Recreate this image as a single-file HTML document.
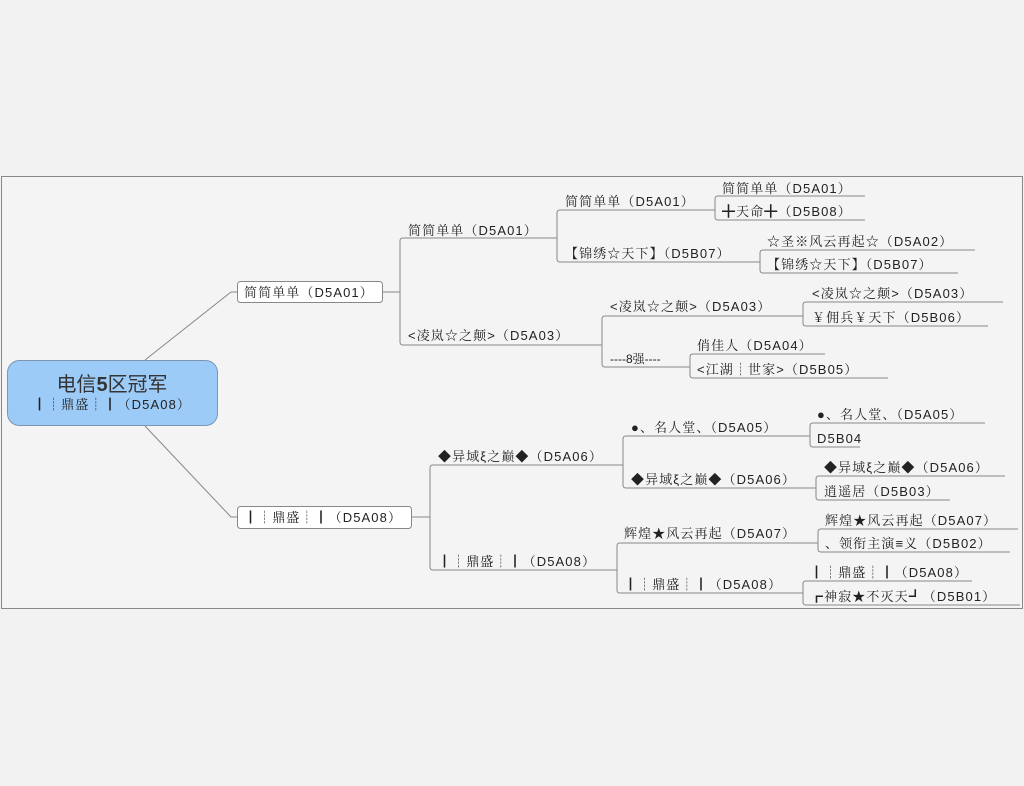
<!DOCTYPE html>
<html><head><meta charset="utf-8"><style>
html,body{margin:0;padding:0;background:#f2f2f2;}
svg{display:block}
text{font-family:"Liberation Sans","Noto Serif CJK SC",serif;font-size:13px;fill:#222;letter-spacing:1.1px;}
</style></head><body>
<svg width="1024" height="786" viewBox="0 0 1024 786" xmlns="http://www.w3.org/2000/svg">
<rect x="0" y="0" width="1024" height="786" fill="#f2f2f2"/>
<rect x="1.5" y="176.5" width="1021" height="432" fill="#f4f4f4" stroke="#888" stroke-width="1"/>
<g fill="none" stroke="#888" stroke-width="1">
<path d="M145 360 L231 292 H237"/>
<path d="M145 426 L231 517 H237"/>
<path d="M383 292 H400"/>
<path d="M412 517 H430"/>
<path d="M557 238 H403 Q400 238 400 241 V342 Q400 345 403 345 H602"/>
<path d="M715 210 H560 Q557 210 557 213 V259 Q557 262 560 262 H760"/>
<path d="M865 196 H718 Q715 196 715 199 V217 Q715 220 718 220 H865"/>
<path d="M975 250 H763 Q760 250 760 253 V270 Q760 273 763 273 H958"/>
<path d="M803 316 H605 Q602 316 602 319 V364 Q602 367 605 367 H690"/>
<path d="M1003 302 H806 Q803 302 803 305 V323 Q803 326 806 326 H988"/>
<path d="M825 354 H693 Q690 354 690 357 V375 Q690 378 693 378 H888"/>
<path d="M623 465 H433 Q430 465 430 468 V567 Q430 570 433 570 H617"/>
<path d="M810 436 H626 Q623 436 623 439 V485 Q623 488 626 488 H816"/>
<path d="M985 423 H813 Q810 423 810 426 V444 Q810 447 813 447 H860"/>
<path d="M1005 476 H819 Q816 476 816 479 V497 Q816 500 819 500 H950"/>
<path d="M818 543 H620 Q617 543 617 546 V590 Q617 593 620 593 H803"/>
<path d="M1018 529 H821 Q818 529 818 532 V549 Q818 552 821 552 H1010"/>
<path d="M972 581 H806 Q803 581 803 584 V602 Q803 605 806 605 H1020"/>
</g>
<rect x="7.5" y="360.5" width="210" height="65" rx="12" fill="#9dcbf8" stroke="#7a96b2"/>
<text x="112" y="391" text-anchor="middle" style="font-size:20px;fill:#333;letter-spacing:0;font-family:'Liberation Sans','Noto Sans CJK SC',sans-serif">电信<tspan font-weight="bold">5</tspan>区冠军</text>
<text x="112" y="409" text-anchor="middle">┃┊鼎盛┊┃（D5A08）</text>
<rect x="237.5" y="281.5" width="145" height="21" rx="3" fill="#fff" stroke="#888"/>
<text x="244" y="297">简简单单（D5A01）</text>
<rect x="237.5" y="506.5" width="174" height="22" rx="3" fill="#fff" stroke="#888"/>
<text x="244" y="522">┃┊鼎盛┊┃（D5A08）</text>

<text x="408" y="235">简简单单（D5A01）</text>
<text x="408" y="340">&lt;凌岚☆之颠&gt;（D5A03）</text>
<text x="565" y="206">简简单单（D5A01）</text>
<text x="565" y="258">【锦绣☆天下】（D5B07）</text>
<text x="722" y="193">简简单单（D5A01）</text>
<text x="722" y="216">╋天命╋（D5B08）</text>
<text x="767" y="246">☆圣※风云再起☆（D5A02）</text>
<text x="767" y="269">【锦绣☆天下】（D5B07）</text>
<text x="610" y="311">&lt;凌岚☆之颠&gt;（D5A03）</text>
<text x="610" y="363" style="font-size:12px;letter-spacing:0">----8强----</text>
<text x="812" y="298">&lt;凌岚☆之颠&gt;（D5A03）</text>
<text x="812" y="322">￥佣兵￥天下（D5B06）</text>
<text x="697" y="350">俏佳人（D5A04）</text>
<text x="697" y="374">&lt;江湖┊世家&gt;（D5B05）</text>

<text x="438" y="461">◆异域ξ之巅◆（D5A06）</text>
<text x="438" y="566">┃┊鼎盛┊┃（D5A08）</text>
<text x="631" y="432">●、名人堂、（D5A05）</text>
<text x="631" y="484">◆异域ξ之巅◆（D5A06）</text>
<text x="817" y="419">●、名人堂、（D5A05）</text>
<text x="817" y="443">D5B04</text>
<text x="824" y="472">◆异域ξ之巅◆（D5A06）</text>
<text x="824" y="496">逍遥居（D5B03）</text>
<text x="624" y="538">辉煌★风云再起（D5A07）</text>
<text x="624" y="589">┃┊鼎盛┊┃（D5A08）</text>
<text x="825" y="525">辉煌★风云再起（D5A07）</text>
<text x="825" y="548">、领衔主演≡义（D5B02）</text>
<text x="810" y="577">┃┊鼎盛┊┃（D5A08）</text>
<text x="810" y="601">┏神寂★不灭天┛（D5B01）</text>
</svg>
</body></html>
